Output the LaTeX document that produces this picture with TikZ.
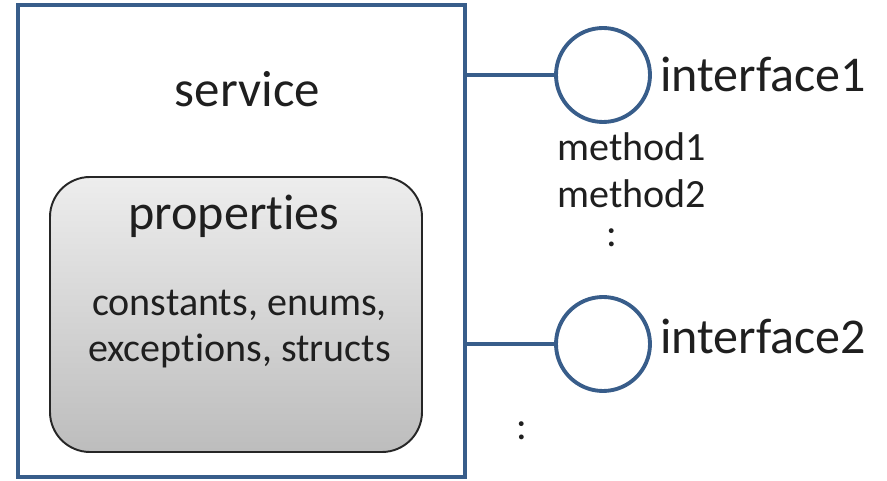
\documentclass[tikz,border=0pt]{standalone}
\usepackage{fontspec}
\setmainfont{Carlito}[Ligatures=NoCommon]
\usetikzlibrary{positioning}
\definecolor{ifblue}{RGB}{56,93,138}

\begin{document}
\begin{tikzpicture}[>=latex, every node/.style={text=black!88}]
\useasboundingbox (0,0) rectangle (17.74,-9.62);

%Service
\node[rectangle, draw=ifblue, line width=2.2pt, fill=white,
minimum width=8.94cm, minimum height=9.44cm] (service) at (4.83,-4.82) {};
\node[anchor=base, font=\fontsize{29}{34}\selectfont] (servicetxt) at (4.95,-2.14) {service};

%Properties
\node[rectangle, rounded corners=0.8cm, draw=black!85, line width=1.1pt,
top color=black!7, bottom color=black!26,
minimum width=7.44cm, minimum height=5.50cm] (props) at (4.72,-6.29) {};
\node[anchor=base, font=\fontsize{28.5}{34}\selectfont] (propstxt) at (4.68,-4.60) {properties};
\node[anchor=base, align=center, font=\fontsize{22.8}{26.7}\selectfont] (propsdetail) at (4.79,-7.24) {
    constants, enums,\\
    exceptions, structs
    };

%Interface 1
\node[circle, draw=ifblue, line width=2.2pt, fill=white, minimum size=1.88cm] (if1) at (12.06,-1.50) {};
\node[anchor=base west, inner sep=0, font=\fontsize{28.5}{34}\selectfont] (if1txt) at (13.20,-1.84) {interface1};

%methods of interface 1
\node[anchor=base west, inner sep=0, align=left, font=\fontsize{22.8}{27.3}\selectfont] (methods) at (11.14,-4.16) {
    method1\\
    method2
    };
\node[anchor=base, inner sep=0, font=\fontsize{22.8}{27.3}\selectfont] (mdots) at (12.24,-4.94) {:};

%Interface 2
\node[circle, draw=ifblue, line width=2.2pt, fill=white, minimum size=1.88cm] (if2) at (12.06,-6.88) {};
\node[anchor=base west, inner sep=0, font=\fontsize{28.5}{34}\selectfont] (if2txt) at (13.20,-7.07) {interface2};

%more interfaces
\node[anchor=base, inner sep=0, font=\fontsize{22.8}{27.3}\selectfont] (ifdots) at (10.44,-8.80) {:};

%Paths
%service to interface 1
\draw[-, ifblue, line width=2.2pt] (if1.west) -- (if1.west-|service.east);
%service to interface 2
\draw[-, ifblue, line width=2.2pt] (if2.west) -- (if2.west-|service.east);

\end{tikzpicture}
\end{document}
